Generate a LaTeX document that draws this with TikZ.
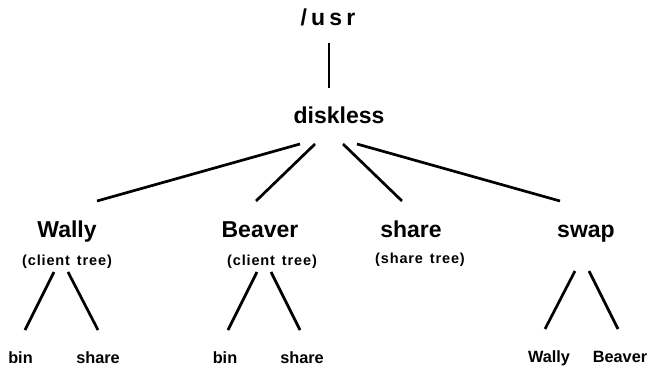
\documentclass[tikz,border=0pt]{standalone}
\usepackage{fontspec}
\setmainfont{Liberation Sans}
\newfontfamily\usrfont[LetterSpace=18]{Liberation Sans}
\newfontfamily\notefont[LetterSpace=6]{Liberation Sans}
\begin{document}
\begin{tikzpicture}[x=1pt,y=-1pt,
  big/.style={font=\bfseries\fontsize{23}{25}\selectfont, anchor=base, inner sep=0pt},
  note/.style={font=\notefont\bfseries\fontsize{14.5}{16}\selectfont, anchor=base, inner sep=0pt},
  leaf/.style={font=\bfseries\fontsize{16.3}{18}\selectfont, anchor=base, inner sep=0pt},
  edge/.style={line width=2.7pt, line cap=butt}]
\useasboundingbox (0,0) rectangle (648,367);
% nodes
\node[big, font=\usrfont\bfseries\fontsize{23}{25}\selectfont] (usr) at (328,25) {/usr};
\node[big] (diskless) at (339,123) {diskless};
\node[big] (wally) at (67,237) {Wally};
\node[note] (wallynote) at (67,265) {(client\hspace{2pt} tree)};
\node[big] (beaver) at (260,237) {Beaver};
\node[note] (beavernote) at (272,265) {(client\hspace{2pt} tree)};
\node[big] (share) at (411,237) {share};
\node[note] (sharenote) at (420,263) {(share\hspace{2pt} tree)};
\node[big] (swap) at (586,237) {swap};
\node[leaf] (wbin) at (20.5,363) {bin};
\node[leaf] (wshare) at (98,363) {share};
\node[leaf] (bbin) at (225,363) {bin};
\node[leaf] (bshare) at (302,363) {share};
\node[leaf] (swally) at (549,362) {Wally};
\node[leaf] (sbeaver) at (620,362) {Beaver};
% connector end points
\coordinate (u1) at (329,43);
\coordinate (u2) at (329,88);
\coordinate (d1) at (300,144);
\coordinate (d2) at (315,144);
\coordinate (d3) at (343,144);
\coordinate (d4) at (357,144);
\coordinate (wt) at (97,201);
\coordinate (bt) at (256,201);
\coordinate (st) at (402,201);
\coordinate (swt) at (560,201);
\coordinate (wl1) at (54,272); \coordinate (wl2) at (25,330);
\coordinate (wr1) at (68,272); \coordinate (wr2) at (98,330);
\coordinate (bl1) at (257,272); \coordinate (bl2) at (228,330);
\coordinate (br1) at (271,272); \coordinate (br2) at (300,330);
\coordinate (sl1) at (575,271); \coordinate (sl2) at (545,329);
\coordinate (sr1) at (589,271); \coordinate (sr2) at (618,329);
% connectors
\draw[edge] (u1) -- (u2);
\draw[edge] (d1) -- (wt);
\draw[edge] (d2) -- (bt);
\draw[edge] (d3) -- (st);
\draw[edge] (d4) -- (swt);
\draw[edge] (wl1) -- (wl2);
\draw[edge] (wr1) -- (wr2);
\draw[edge] (bl1) -- (bl2);
\draw[edge] (br1) -- (br2);
\draw[edge] (sl1) -- (sl2);
\draw[edge] (sr1) -- (sr2);
\end{tikzpicture}
\end{document}
